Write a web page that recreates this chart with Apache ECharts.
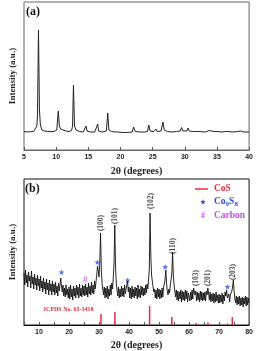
<!DOCTYPE html>
<html><head><meta charset="utf-8">
<script src="https://cdn.jsdelivr.net/npm/echarts@6/dist/echarts.min.js"></script>
<style>html,body{margin:0;padding:0;background:#fff}#c{width:256px;height:351px}</style>
</head><body><div id="c"></div>
<script>
// Panel (a): [2theta, intensity]
const patternA = [[5,18.5],[5.5,18],[6,18.3],[6.5,18.5],[6.8,19.5],[7.0,24],[7.1,35],[7.25,120],[7.4,40],[7.55,25],[7.8,20],[8.2,19],[8.7,18.5],[9.2,18.3],[9.7,18.5],[10.1,20],[10.33,39],[10.5,24],[10.7,21],[11,20],[11.5,19],[12,18.5],[12.4,19.5],[12.55,24],[12.69,65],[12.85,24],[13.1,20],[13.6,18.5],[14.2,18],[14.5,19],[14.65,24],[14.8,19],[15.3,18],[16,18],[16.3,19],[16.46,26],[16.6,19],[17.2,18],[17.8,19],[18.02,37],[18.2,20],[18.6,18.5],[19.2,18],[19.4,20],[19.6,18],[20.3,17.5],[21,17.5],[21.8,18],[22.04,23],[22.3,18.5],[23,18],[23.8,18],[24.2,18.5],[24.4,25],[24.6,19],[25.2,18.5],[25.5,21],[25.7,18.5],[26.3,19],[26.6,28],[26.8,20],[27.3,18.5],[28,18],[28.7,18.5],[29.3,19],[29.5,22.5],[29.7,19],[30.3,19],[30.5,22],[30.7,19],[31.2,18.5],[31.4,20.5],[31.6,18.5],[32.2,18.5],[32.35,20],[32.5,18.5],[33.2,18],[33.8,19.5],[34.1,18.5],[34.6,18.5],[34.8,20.5],[35,18.5],[35.8,18],[36.3,18.5],[36.5,19.5],[36.7,18.5],[37.5,18],[38.2,18.5],[38.7,19],[39.2,18],[40,18]];

// Panel (b): sampled every 0.25 degree from 5 to 80
const bStart = 5, bStep = 0.25;
const patternB = [
52,40,55,42,50,38,53,44,49,37,54,41,48,36,51,40,47,35,50,39,
46,34,49,37,44,33,47,36,43,31,46,35,42,30,45,34,41,30,44,33,
41,30,43,32,39,29,42,34,40,47,38,33,40,29,37,28,40,30,36,27,
38,26,40,28,36,25,39,29,37,27,40,30,38,27,41,29,37,28,40,30,
39,29,41,30,38,28,42,31,39,30,43,32,40,31,44,36,44,50,59,54,
48,62,92,56,42,36,30,38,27,37,28,39,26,36,29,40,30,42,36,48,
62,100,58,42,35,29,38,27,36,28,39,29,37,28,40,31,36,38,44,33,
38,27,37,26,39,28,36,27,38,29,37,26,40,28,36,27,39,30,38,29,
37,30,40,32,41,36,45,56,112,70,50,44,38,33,36,27,35,26,37,28,
36,26,35,27,37,28,38,36,45,55,42,33,30,36,32,40,45,52,73,50,
40,34,28,35,25,34,24,33,26,35,23,34,25,33,24,35,26,34,23,32,
34,24,33,25,35,26,37,38,30,34,24,33,25,32,23,34,25,33,24,32,
25,33,24,34,30,37,32,25,33,23,31,24,32,22,31,23,33,24,30,22,
31,22,30,23,32,21,30,24,33,29,35,27,25,31,23,30,28,34,38,45,
34,26,22,29,20,28,21,29,19,27,20,28,18,27,21,29,19,28,20,27,
22];

// JCPDS 65-3418 reference sticks
const stickX = [30.65, 35.3, 46.85, 54.25, 62.4, 66.3, 72.8, 74.4];
const stickH = [11, 13, 19, 8, 2, 2.5, 1.5, 8];

// Co9S8 markers and carbon marker
const starX = [17.5, 29.45, 39.56, 52.05, 72.8];
const starY = [52.7, 62.7, 44.7, 58, 38.3];
const hashX = [25.4];
const hashY = [45.3];

// hkl labels
const hklText = ['(100)','(101)','(102)','(110)','(103)','(201)','(203)'];
const hklX = [30.76, 35.4, 47.2, 54.8, 62.4, 66.4, 74.55];
const hklY = [102, 109, 124, 79, 47, 47, 53];

const seriesB = patternB.map((v, i) => [bStart + i * bStep, v]);
const sticks = stickX.map((x, i) => [x, stickH[i]]);
const stars = starX.map((x, i) => [x, starY[i]]);
const hashes = hashX.map((x, i) => [x, hashY[i]]);
const hkl = hklX.map((x, i) => ({value: [x, hklY[i]], name: hklText[i]}));

const serif = 'Liberation Serif';
const sans = 'Liberation Sans';
const RED = '#ee2a3c', BLUE = '#2a4fe0', PURPLE = '#c04ee0';
const STAR = 'path://M0,-10L2.4,-3.1L9.5,-3.1L3.8,1.2L5.9,8.1L0,3.8L-5.9,8.1L-3.8,1.2L-9.5,-3.1L-2.4,-3.1Z';
const STAR_PTS = [[0,-3],[0.7,-0.9],[2.85,-0.93],[1.15,0.37],[1.76,2.43],[0,1.15],[-1.76,2.43],[-1.15,0.37],[-2.85,-0.93],[-0.7,-0.9]];

function xAx(idx, min, max, every10) {
  return {
    gridIndex: idx, type: 'value', min: min, max: max, interval: 5,
    name: '2θ (degrees)', nameLocation: 'middle', nameGap: idx === 0 ? 16 : 15,
    nameTextStyle: {fontFamily: serif, fontWeight: 'bold', fontSize: 10, color: '#222'},
    axisLine: {show: true, lineStyle: {color: idx === 0 ? '#666' : '#111', width: 1}},
    axisTick: {show: true, inside: true, length: 3, lineStyle: {color: '#555'}},
    splitLine: {show: false},
    axisLabel: {
      fontFamily: sans, fontWeight: 'bold', fontSize: 7, color: '#222', margin: 4,
      formatter: v => every10 ? (v % 10 === 0 ? String(v) : '') : String(v)
    }
  };
}
function yAx(idx, max) {
  return {
    gridIndex: idx, type: 'value', min: 0, max: max,
    name: 'Intensity (a.u.)', nameLocation: 'middle', nameGap: 7,
    nameTextStyle: {fontFamily: serif, fontWeight: 'bold', fontSize: 9, color: '#222'},
    axisLine: {show: false}, axisTick: {show: false}, axisLabel: {show: false}, splitLine: {show: false}
  };
}

const chart = echarts.init(document.getElementById('c'), null, {renderer: 'canvas'});
chart.setOption({
  animation: false,
  backgroundColor: '#fff',
  grid: [
    {left: 19, top: 2, width: 232, height: 148, show: true, borderColor: '#666', borderWidth: 1},
    {left: 19, top: 179, width: 231, height: 146, show: true, borderColor: '#111', borderWidth: 1}
  ],
  xAxis: [xAx(0, 5, 40, false), xAx(1, 5, 80, true)],
  yAxis: [yAx(0, 148), yAx(1, 146)],
  series: [
    {type: 'line', xAxisIndex: 0, yAxisIndex: 0, data: patternA, showSymbol: false,
     lineStyle: {color: '#222', width: 1}},
    {type: 'line', xAxisIndex: 1, yAxisIndex: 1, data: seriesB, showSymbol: false,
     lineStyle: {color: '#111', width: 0.9}},
    {type: 'bar', xAxisIndex: 1, yAxisIndex: 1, data: sticks, barWidth: 1.5,
     itemStyle: {color: RED}},
    {type: 'scatter', xAxisIndex: 1, yAxisIndex: 1, data: stars, symbol: STAR, symbolSize: 6,
     itemStyle: {color: BLUE}},
    {type: 'scatter', xAxisIndex: 1, yAxisIndex: 1, data: hashes, symbolSize: 0,
     label: {show: true, position: 'inside', formatter: '#', color: PURPLE, fontFamily: serif, fontWeight: 'bold', fontSize: 9}},
    {type: 'scatter', xAxisIndex: 1, yAxisIndex: 1, data: hkl, symbolSize: 0,
     label: {show: true, position: 'inside', rotate: 90, formatter: p => p.name, color: '#111',
             fontFamily: serif, fontWeight: 'bold', fontSize: 7.5}}
  ],
  graphic: [
    {type: 'text', x: 26, y: 6, style: {text: '(a)', fontFamily: serif, fontWeight: 'bold', fontSize: 12, fill: '#111'}},
    {type: 'text', x: 25, y: 183, style: {text: '(b)', fontFamily: serif, fontWeight: 'bold', fontSize: 12, fill: '#111'}},
    {type: 'line', shape: {x1: 195, y1: 189, x2: 208, y2: 189}, style: {stroke: RED, lineWidth: 1.5}},
    {type: 'text', x: 214, y: 189, style: {text: 'CoS', fontFamily: serif, fontWeight: 'bold', fontSize: 9.5, fill: RED, verticalAlign: 'middle'}},
    {type: 'polygon', x: 203, y: 202, shape: {points: STAR_PTS}, style: {fill: BLUE}},
    {type: 'text', x: 214, y: 202, style: {
      text: '{a|Co}{s|9}{a|S}{s|8}', verticalAlign: 'middle',
      rich: {a: {fontFamily: serif, fontWeight: 'bold', fontSize: 9.5, fill: BLUE},
             s: {fontFamily: serif, fontWeight: 'bold', fontSize: 7, fill: BLUE, padding: [5, 0, 0, 0]}}}},
    {type: 'text', x: 203, y: 216, style: {text: '#', fontFamily: serif, fontWeight: 'bold', fontSize: 8, fill: PURPLE, align: 'center', verticalAlign: 'middle'}},
    {type: 'text', x: 214, y: 216, style: {text: 'Carbon', fontFamily: serif, fontWeight: 'bold', fontSize: 9.5, fill: PURPLE, verticalAlign: 'middle'}},
    {type: 'text', x: 43, y: 309, style: {text: 'JCPDS No. 65-3418', fontFamily: serif, fontWeight: 'bold', fontSize: 6, fill: RED, verticalAlign: 'middle'}}
  ]
});
</script>
</body></html>
